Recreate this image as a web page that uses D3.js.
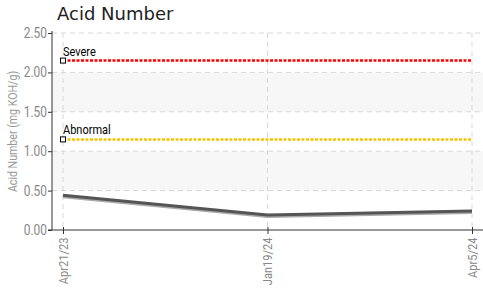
<!DOCTYPE html>
<html>
<head>
<meta charset="utf-8">
<script src="https://cdn.jsdelivr.net/npm/d3@7"></script>
<style>
  body { margin: 0; background: #fff; }
  svg { display: block; }
</style>
</head>
<body>
<div id="chart"></div>
<script>
var dates = ["Apr21/23", "Jan19/24", "Apr5/24"];
var values = [0.44, 0.19, 0.24];
var yTicks = [0, 0.5, 1.0, 1.5, 2.0, 2.5];
var limitNames = ["Severe", "Abnormal"];
var limitValues = [2.15, 1.15];
var limitColors = ["#ff0000", "#f5c400"];

var width = 483, height = 295;
var mLeft = 52, mTop = 33, mRight = 483, mBottom = 230;

var svg = d3.select("#chart").append("svg")
    .attr("width", width)
    .attr("height", height);

var x = d3.scalePoint().domain(dates).range([63, 472]);
var y = d3.scaleLinear().domain([0, 2.5]).range([mBottom, mTop]);

var tickFont = "'Roboto', sans-serif";

// alternating bands
var bands = [[0.5, 1.0], [1.5, 2.0]];
svg.selectAll("rect.band")
    .data(bands)
    .enter().append("rect")
    .attr("class", "band")
    .attr("x", mLeft)
    .attr("width", mRight - mLeft)
    .attr("y", function(d) { return y(d[1]); })
    .attr("height", function(d) { return y(d[0]) - y(d[1]); })
    .attr("fill", "#f7f7f7");

// horizontal grid
svg.selectAll("line.hgrid")
    .data(yTicks.slice(1))
    .enter().append("line")
    .attr("x1", mLeft).attr("x2", mRight)
    .attr("y1", function(d) { return y(d); })
    .attr("y2", function(d) { return y(d); })
    .attr("stroke", "#d8d8d8")
    .attr("stroke-dasharray", "5,4");

// vertical grid
svg.selectAll("line.vgrid")
    .data(dates)
    .enter().append("line")
    .attr("x1", function(d) { return x(d); })
    .attr("x2", function(d) { return x(d); })
    .attr("y1", mTop).attr("y2", mBottom)
    .attr("stroke", "#d8d8d8")
    .attr("stroke-dasharray", "5,4");

// limit lines
limitValues.forEach(function(v, i) {
    svg.append("line")
        .attr("x1", x(dates[0])).attr("x2", x(dates[dates.length - 1]))
        .attr("y1", y(v)).attr("y2", y(v))
        .attr("stroke", limitColors[i])
        .attr("stroke-width", 2.5)
        .attr("stroke-dasharray", "3,1.5");
    svg.append("rect")
        .attr("x", x(dates[0]) - 2.5)
        .attr("y", y(v) - 2.5)
        .attr("width", 5).attr("height", 5)
        .attr("fill", "#fff")
        .attr("stroke", "#000")
        .attr("stroke-width", 1);
    svg.append("text")
        .attr("x", x(dates[0]))
        .attr("y", y(v) - 5)
        .attr("font-family", tickFont)
        .attr("font-size", 12.5)
        .attr("fill", "#000")
        .style("paint-order", "stroke")
        .attr("stroke", "#fff")
        .attr("stroke-width", 2)
        .attr("transform", "translate(" + x(dates[0]) + ",0) scale(0.88,1) translate(" + (-x(dates[0])) + ",0)")
        .text(limitNames[i]);
});

// data line
var line = d3.line()
    .x(function(d, i) { return x(dates[i]); })
    .y(function(d) { return y(d); });

svg.append("path")
    .datum(values)
    .attr("d", line)
    .attr("transform", "translate(0,1.5)")
    .attr("fill", "none")
    .attr("stroke", "#aaaaaa")
    .attr("stroke-width", 3);

svg.append("path")
    .datum(values)
    .attr("d", line)
    .attr("fill", "none")
    .attr("stroke", "#555555")
    .attr("stroke-width", 3);

// axes
var yAxis = d3.axisLeft(y)
    .tickValues(yTicks)
    .tickFormat(d3.format(".2f"))
    .tickSize(4);

var gy = svg.append("g")
    .attr("transform", "translate(" + mLeft + ",0)")
    .call(yAxis);
gy.select(".domain").attr("stroke", "#333").attr("d", "M0," + (mTop - 2) + "V" + mBottom);
gy.selectAll(".tick line").attr("stroke", "#333");
gy.selectAll("text")
    .attr("font-family", tickFont)
    .attr("font-size", 14)
    .attr("fill", "#888")
    .attr("x", -6)
    .attr("transform", "scale(0.85,1)");

var xAxis = d3.axisBottom(x).tickSize(4);
var gx = svg.append("g")
    .attr("transform", "translate(0," + mBottom + ")")
    .call(xAxis);
gx.select(".domain").attr("stroke", "#333").attr("d", "M" + (mLeft - 4) + ",0H" + mRight);
gx.selectAll(".tick line").attr("stroke", "#333").attr("y1", -3);
gx.selectAll("text")
    .attr("font-family", tickFont)
    .attr("font-size", 13)
    .attr("fill", "#888")
    .attr("transform", "rotate(-90) scale(0.85,1)")
    .attr("text-anchor", "end")
    .attr("x", -9)
    .attr("y", 0)
    .attr("dy", "0.32em");

// y axis title
svg.append("text")
    .attr("transform", "translate(17," + ((mTop + mBottom) / 2) + ") rotate(-90) scale(0.85,1)")
    .attr("text-anchor", "middle")
    .attr("font-family", tickFont)
    .attr("font-size", 12.5)
    .attr("fill", "#999")
    .text("Acid Number (mg KOH/g)");

// title
svg.append("text")
    .attr("x", 57)
    .attr("y", 20)
    .attr("font-family", "'DejaVu Sans', sans-serif")
    .attr("font-size", 18)
    .attr("fill", "#222")
    .text("Acid Number");
</script>
</body>
</html>
